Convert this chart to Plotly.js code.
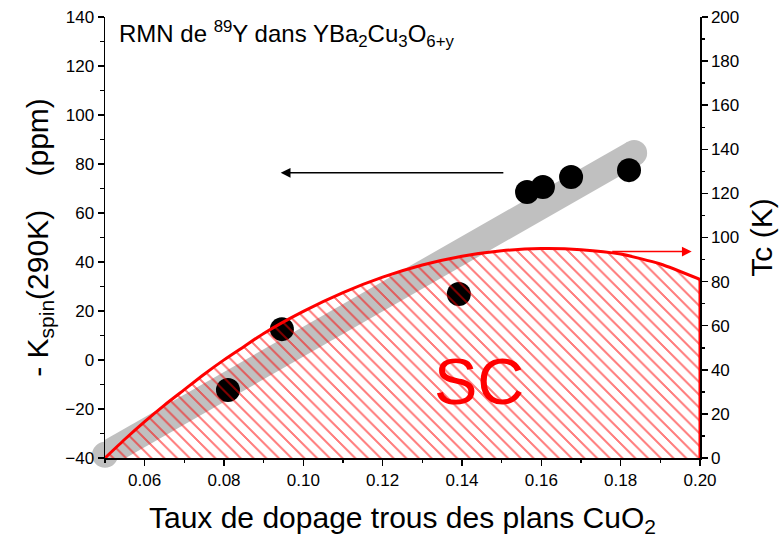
<!DOCTYPE html>
<html><head><meta charset="utf-8">
<script src="https://cdn.plot.ly/plotly-3.0.1.min.js"></script>
<style>html,body{margin:0;padding:0;background:#fff}
pattern path{shape-rendering:crispEdges}</style>
</head><body><div id="chart" style="width:782px;height:542px"></div>
<script>
// Measured points: doping vs -K_spin(290K) (ppm)
const dopingPts = [0.081, 0.0946, 0.1392, 0.1564, 0.1604, 0.1675, 0.1821];
const kspinPts  = [-12.2, 12.6, 26.9, 68.6, 70.6, 74.7, 77.5];
// Grey guide band (end points)
const guideX = [0.05, 0.1834];
const guideY = [-38.7, 84.5];
// Superconducting dome Tc (K) vs doping
const domeX  = [0.05, 0.055, 0.06, 0.065, 0.07, 0.075, 0.08, 0.085, 0.09, 0.10, 0.11, 0.12, 0.13, 0.14, 0.15, 0.16, 0.17, 0.18, 0.19, 0.20];
const domeTc = [0, 8.5, 16.5, 24, 31, 38, 44.5, 50.5, 56.5, 66.5, 75, 82, 87.5, 91.5, 94, 95, 94.5, 92.5, 88, 81];
// Right-hand edge of the dome
const edgeX  = [0.20, 0.20];
const edgeTc = [0, 81];
// Arrows (tail -> head)
const leftArrow  = {tailX: 0.1508, headX: 0.0943, y: 76.4};
const rightArrow = {tailX: 0.1775, headX: 0.1979, y: 93.6};
const scLabel = {x: 0.1442, y: -8.8, text: 'SC'};

const FONT = 'Liberation Sans, Arial, sans-serif';

const traces = [
  {x: guideX, y: guideY, mode: 'lines+markers', xaxis: 'x', yaxis: 'y',
   line: {color: '#c0c0c0', width: 26}, marker: {color: '#c0c0c0', size: 26},
   cliponaxis: false, hoverinfo: 'skip', showlegend: false},
  {x: dopingPts, y: kspinPts, mode: 'markers', xaxis: 'x', yaxis: 'y',
   marker: {color: 'black', size: 24}, cliponaxis: false, showlegend: false},
  {x: domeX, y: domeTc, mode: 'lines', xaxis: 'x', yaxis: 'y2',
   line: {color: 'red', width: 3, shape: 'spline', smoothing: 0.6}, fill: 'tozeroy', fillcolor: 'rgba(0,0,0,0)',
   fillpattern: {shape: '\\', fgcolor: 'red', bgcolor: 'rgba(0,0,0,0)', size: 9, solidity: 0.16, fillmode: 'overlay'},
   showlegend: false},
  {x: edgeX, y: edgeTc, mode: 'lines', xaxis: 'x', yaxis: 'y2',
   line: {color: 'red', width: 3}, showlegend: false}
];

const axisCommon = {
  showline: true, linecolor: 'black', linewidth: 1.5, mirror: false,
  ticks: 'outside', ticklen: 6, tickwidth: 1.5, tickcolor: 'black',
  showgrid: false, zeroline: false,
  tickfont: {family: FONT, size: 17, color: 'black'}
};

const layout = {
  width: 782, height: 542,
  margin: {l: 105, r: 82, t: 17, b: 84, pad: 0},
  paper_bgcolor: 'white', plot_bgcolor: 'white',
  font: {family: FONT, color: 'black'},
  showlegend: false,
  xaxis: Object.assign({}, axisCommon, {
    range: [0.05, 0.20], dtick: 0.02, tick0: 0, tickformat: '.2f',
    minor: {dtick: 0.01, ticks: 'outside', ticklen: 3.5, tickwidth: 1.5, tickcolor: 'black'},
    title: {text: 'Taux de dopage trous des plans CuO<sub>2</sub>', font: {family: FONT, size: 30, color: 'black'}, standoff: 18}
  }),
  yaxis: Object.assign({}, axisCommon, {
    range: [-40, 140], dtick: 20, tick0: 0, side: 'left',
    minor: {dtick: 10, ticks: 'outside', ticklen: 3.5, tickwidth: 1.5, tickcolor: 'black'},
    title: {text: '- K<sub>spin</sub>(290K)\u00a0\u00a0\u00a0\u00a0(ppm)', font: {family: FONT, size: 30, color: 'black'}, standoff: 8}
  }),
  yaxis2: Object.assign({}, axisCommon, {
    range: [0, 200], dtick: 20, tick0: 0, side: 'right', overlaying: 'y',
    minor: {dtick: 10, ticks: 'outside', ticklen: 3.5, tickwidth: 1.5, tickcolor: 'black'},
    title: {text: 'Tc (K)', font: {family: FONT, size: 30, color: 'black'}, standoff: 12}
  }),
  annotations: [
    {xref: 'x', yref: 'y', x: scLabel.x, y: scLabel.y, text: scLabel.text, showarrow: false,
     font: {family: FONT, size: 65, color: 'red'}, xanchor: 'center', yanchor: 'middle'},
    {xref: 'paper', yref: 'paper', x: 0.02, y: 0.962, xanchor: 'left', yanchor: 'middle',
     text: 'RMN de <sup>89</sup>Y dans YBa<sub>2</sub>Cu<sub>3</sub>O<sub>6+y</sub>', showarrow: false,
     font: {family: FONT, size: 24, color: 'black'}},
    {xref: 'x', yref: 'y', axref: 'x', ayref: 'y', x: leftArrow.headX, y: leftArrow.y,
     ax: leftArrow.tailX, ay: leftArrow.y, text: '', showarrow: true, arrowhead: 2,
     arrowsize: 1.3, arrowwidth: 1.5, arrowcolor: 'black', standoff: 0, startstandoff: 0},
    {xref: 'x', yref: 'y2', axref: 'x', ayref: 'y2', x: rightArrow.headX, y: rightArrow.y,
     ax: rightArrow.tailX, ay: rightArrow.y, text: '', showarrow: true, arrowhead: 2,
     arrowsize: 1.3, arrowwidth: 1.5, arrowcolor: 'red', standoff: 0, startstandoff: 0}
  ]
};

Plotly.newPlot('chart', traces, layout, {displayModeBar: false, staticPlot: true});
</script>
</body></html>
